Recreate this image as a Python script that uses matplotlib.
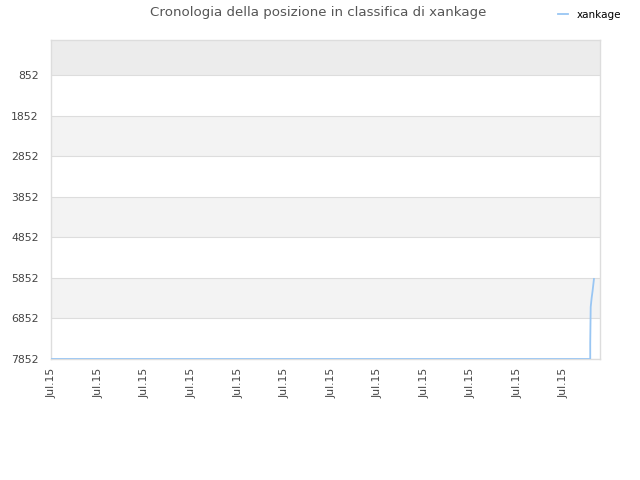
import matplotlib
matplotlib.use("Agg")
import matplotlib.pyplot as plt

# data
days = list(range(116)) + [115.7, 115.7, 115.8, 116.0, 116.2, 116.5]
ranks = [7852] * 116 + [7852, 7460, 6570, 6350, 6180, 5880]
tick_positions = [0, 10, 20, 30, 40, 50, 60, 70, 80, 90, 100, 110]
tick_labels = ["Jul.15"] * 12
ytick_values = [852, 1852, 2852, 3852, 4852, 5852, 6852, 7852]
title = "Cronologia della posizione in classifica di xankage"
series_name = "xankage"

plt.rcParams['font.family'] = ['DejaVu Sans']
fig = plt.figure(figsize=(6.4, 4.8), dpi=100)
ax = fig.add_axes([51/640, (480-359)/480, (600-51)/640, (359-40)/480])

ymin_top = -10
ax.set_ylim(7852, ymin_top)
ax.set_xlim(-0.2, 117.8)

# alternating bands
ax.axhspan(ymin_top, 852, color="#ececec", zorder=0, lw=0)
for i in range(len(ytick_values) - 1):
    if i % 2 == 1:
        ax.axhspan(ytick_values[i], ytick_values[i + 1], color="#f3f3f3", zorder=0, lw=0)
for v in ytick_values:
    ax.axhline(v, color="#dddddd", lw=0.8, zorder=1)

ax.plot(days, ranks, color="#99c6f3", lw=1.3, label=series_name, zorder=3)

ax.set_yticks(ytick_values)
ax.set_yticklabels([str(v) for v in ytick_values], fontsize=7.8, color="#444444")
ax.set_xticks(tick_positions)
ax.set_xticklabels(tick_labels, rotation=90, fontsize=7.8, color="#444444")
ax.tick_params(axis="y", length=0, pad=9)
ax.tick_params(axis="x", length=0, pad=6)

for s in ax.spines.values():
    s.set_color("#dddddd")
    s.set_linewidth(1)

fig.suptitle(title, x=0.497, y=0.988, fontsize=9.6, color="#555555")
leg = fig.legend(loc="upper right", bbox_to_anchor=(0.985, 0.999), frameon=False,
                 fontsize=7.5, handlelength=1.0, handletextpad=0.8)

fig.savefig("out.png", dpi=100)
